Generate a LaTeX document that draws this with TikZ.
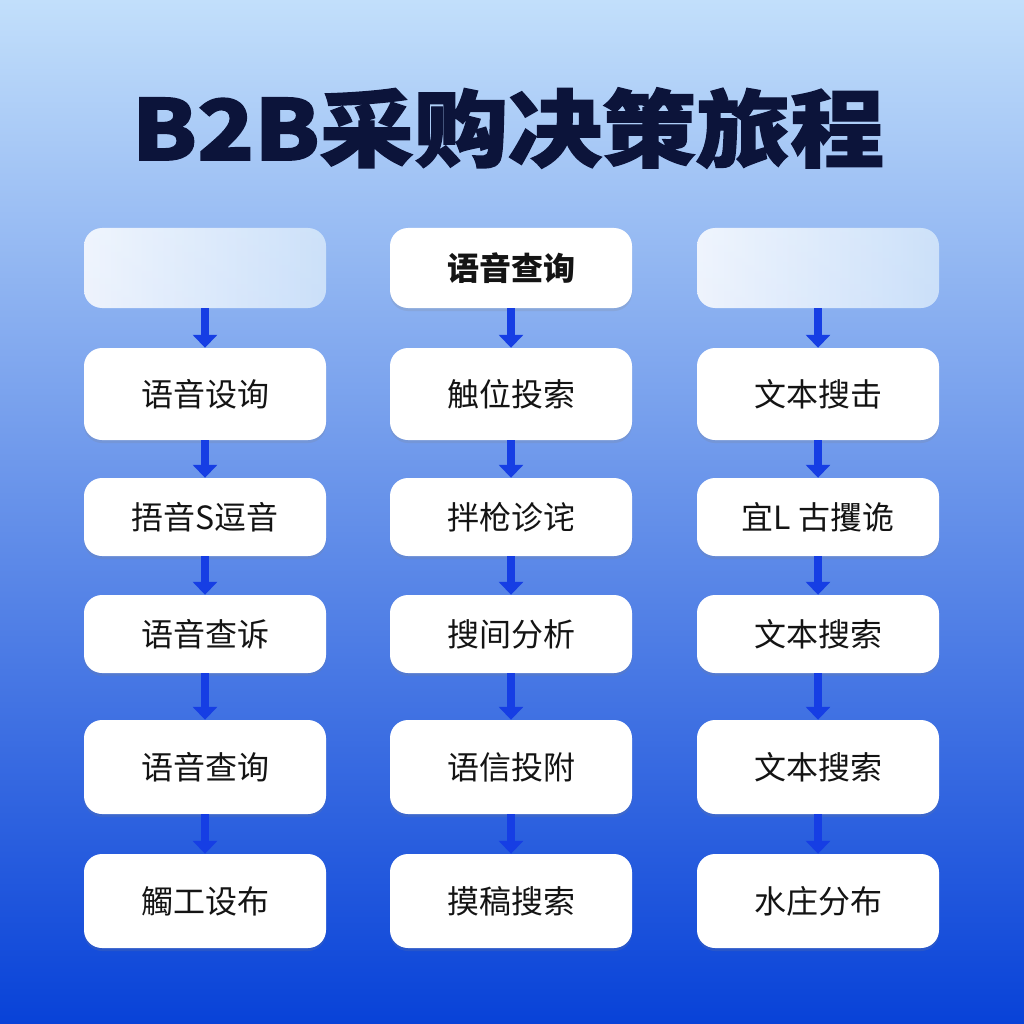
\documentclass[tikz,border=0pt]{standalone}
\usepackage{fontspec}
\usepackage{graphicx}
\setmainfont{Noto Sans CJK SC}
\newfontfamily\titlefont{Noto Sans CJK SC}[BoldFeatures={FakeBold=1.6}]
\usetikzlibrary{positioning,arrows.meta,shadows}

\definecolor{titlenavy}{RGB}{12,20,58}
\definecolor{flowblue}{RGB}{22,62,228}
\definecolor{bgtop}{RGB}{194,223,251}
\definecolor{bgmid}{RGB}{86,144,236}
\definecolor{bgbot}{RGB}{8,66,216}
\definecolor{ghostright}{RGB}{214,232,251}

\tikzset{
  stagebox/.style={fill=white, rounded corners=18pt, minimum width=242pt, inner sep=0pt,
    font=\fontsize{32}{38}\selectfont, text=black!92,
    drop shadow={shadow xshift=0pt, shadow yshift=-3pt, opacity=0.18}},
  ghostbox/.style={left color=white, right color=ghostright, fill opacity=0.85,
    rounded corners=18pt, minimum width=242pt, inner sep=0pt},
  flow/.style={flowblue, line width=8pt, -{Triangle[width=24pt,length=13pt]}},
}

\begin{document}
\begin{tikzpicture}[x=1pt,y=-1pt]
%---------------------Background------------------%
\useasboundingbox (0,0) rectangle (1024,1024);
\shade[top color=bgtop, middle color=bgmid, bottom color=bgbot] (0,0) rectangle (1024,1024);

%---------------------Title------------------%
\node[text=titlenavy, font=\titlefont\fontsize{84}{96}\selectfont\bfseries] (title) at (508,128) {\scalebox{1.12}[1]{B2B采购决策旅程}};

%---------------------Column 1------------------%
\node[ghostbox, minimum height=80pt] (a1) at (205,268) {};
\node[stagebox, minimum height=92pt] (a2) at (205,394) {语音设询};
\node[stagebox, minimum height=78pt] (a3) at (205,517) {捂音S逗音};
\node[stagebox, minimum height=78pt] (a4) at (205,634) {语音查诉};
\node[stagebox, minimum height=94pt] (a5) at (205,767) {语音查询};
\node[stagebox, minimum height=94pt] (a6) at (205,901) {觸工设布};

%---------------------Column 2------------------%
\node[stagebox, minimum height=80pt, font=\fontsize{32}{38}\selectfont\bfseries] (b1) at (511,268) {语音查询};
\node[stagebox, minimum height=92pt] (b2) at (511,394) {触位投索};
\node[stagebox, minimum height=78pt] (b3) at (511,517) {拌枪诊诧};
\node[stagebox, minimum height=78pt] (b4) at (511,634) {搜间分析};
\node[stagebox, minimum height=94pt] (b5) at (511,767) {语信投附};
\node[stagebox, minimum height=94pt] (b6) at (511,901) {摸稿搜索};

%---------------------Column 3------------------%
\node[ghostbox, minimum height=80pt] (c1) at (818,268) {};
\node[stagebox, minimum height=92pt] (c2) at (818,394) {文本搜击};
\node[stagebox, minimum height=78pt] (c3) at (818,517) {宜L 古攫诡};
\node[stagebox, minimum height=78pt] (c4) at (818,634) {文本搜索};
\node[stagebox, minimum height=94pt] (c5) at (818,767) {文本搜索};
\node[stagebox, minimum height=94pt] (c6) at (818,901) {水庄分布};

%---------------------Arrows------------------%
\draw[flow] (a1.south) -- (a2.north);
\draw[flow] (a2.south) -- (a3.north);
\draw[flow] (a3.south) -- (a4.north);
\draw[flow] (a4.south) -- (a5.north);
\draw[flow] (a5.south) -- (a6.north);

\draw[flow] (b1.south) -- (b2.north);
\draw[flow] (b2.south) -- (b3.north);
\draw[flow] (b3.south) -- (b4.north);
\draw[flow] (b4.south) -- (b5.north);
\draw[flow] (b5.south) -- (b6.north);

\draw[flow] (c1.south) -- (c2.north);
\draw[flow] (c2.south) -- (c3.north);
\draw[flow] (c3.south) -- (c4.north);
\draw[flow] (c4.south) -- (c5.north);
\draw[flow] (c5.south) -- (c6.north);
\end{tikzpicture}
\end{document}
